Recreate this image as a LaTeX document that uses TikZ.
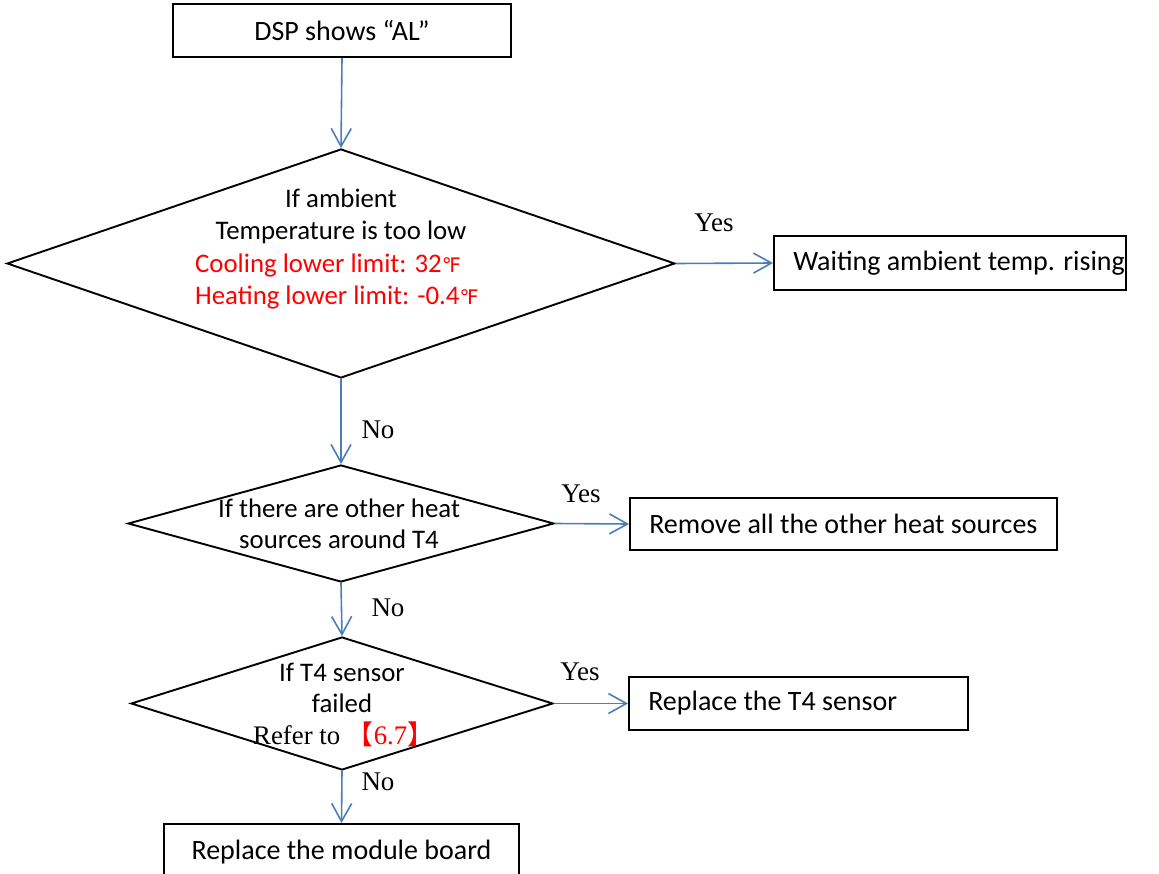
\documentclass[tikz,border=0pt]{standalone}
\usepackage{fontspec}
\setmainfont{Carlito}
\newfontfamily\serifft{Liberation Serif}
\newfontfamily\dejavu{DejaVu Sans}
\newfontfamily\cjkf{Noto Sans CJK SC}
\usetikzlibrary{shapes.geometric,arrows.meta}
\definecolor{lineblue}{HTML}{4A7EBB}
\definecolor{txtred}{HTML}{FF0000}
\newcommand{\degFahr}{{\dejavu\fontsize{20}{20}\selectfont ℉}}
\begin{document}
\begin{tikzpicture}[x=1pt,y=-1pt,
  box/.style={draw, line width=1.9pt, rectangle, inner sep=0pt},
  btxt/.style={font=\fontsize{28}{32}\selectfont, inner sep=0pt},
  dia/.style={draw, diamond, line width=1.9pt, inner sep=0pt},
  arr/.style={draw=lineblue, line width=1.6pt, -{Straight Barb[length=18pt,width=20pt,line width=1.6pt]}},
  lab/.style={font=\serifft\fontsize{27}{32}\selectfont, inner sep=0pt},
  dtxt/.style={font=\fontsize{26.8}{30}\selectfont, inner sep=0pt, anchor=base}]
\useasboundingbox (0,0) rectangle (1159,874);
% boxes
\node[box, minimum width=338pt, minimum height=53pt] (b1) at (342,30.5) {};
\node[btxt] (t1) at (b1.center) {DSP shows “AL”};
\node[box, minimum width=352pt, minimum height=54pt] (b2) at (950,263) {};
\node[btxt, anchor=west] (t2) at ([xshift=20pt]b2.west) {Waiting ambient temp. rising};
\node[box, minimum width=427pt, minimum height=52pt] (b3) at (843.5,524) {};
\node[btxt, anchor=west] (t3) at ([xshift=20pt]b3.west) {Remove all the other heat sources};
\node[box, minimum width=339pt, minimum height=53pt] (b4) at (798.5,703.5) {};
\node[btxt, anchor=west] (t4) at ([xshift=20pt]b4.west) {Replace the T4 sensor};
\node[box, minimum width=355pt, minimum height=56pt] (b5) at (341.5,852) {};
\node[btxt] (t5) at (341.5,852) {Replace the module board};
% diamonds
\node[dia, minimum width=668pt, minimum height=229pt] (d1) at (341,263.5) {};
\node[dia, minimum width=426pt, minimum height=117pt] (d2) at (341,523.5) {};
\node[dia, minimum width=422pt, minimum height=133pt] (d3) at (342,703.5) {};
% diamond texts
\node[dtxt] (d1a) at (341,208) {If ambient};
\node[dtxt] (d1b) at (341,240) {Temperature is too low};
\node[dtxt, anchor=base west, text=txtred] (d1c) at (195,273) {Cooling lower limit: 32\degFahr};
\node[dtxt, anchor=base west, text=txtred] (d1d) at (195,305) {Heating lower limit: -0.4\degFahr};
\node[dtxt] (d2a) at (339,517) {If there are other heat};
\node[dtxt] (d2b) at (339,548) {sources around T4};
\node[dtxt] (d3a) at (342,681) {If T4 sensor};
\node[dtxt] (d3b) at (342,712) {failed};
\node[dtxt, anchor=base west] (d3c) at (253,744) {\serifft Refer to \textcolor{txtred}{{\cjkf 【}6.7{\cjkf 】}}};
% connectors
\draw[arr] (b1.south) -- (d1.north);
\draw[arr] (d1.east) -- (b2.west);
\draw[arr] (d1.south) -- (d2.north);
\draw[arr] (d2.east) -- (b3.west);
\draw[arr] (d2.south) -- (d3.north);
\draw[arr] (d3.east) -- (b4.west);
\draw[arr] (d3.south) -- (b5.north);
% labels
\node[lab] (y1) at (714,223) {Yes};
\node[lab] (n1) at (378,430) {No};
\node[lab] (y2) at (581,494) {Yes};
\node[lab] (n2) at (388,608) {No};
\node[lab] (y3) at (580,672) {Yes};
\node[lab] (n3) at (378,782) {No};
\end{tikzpicture}
\end{document}
